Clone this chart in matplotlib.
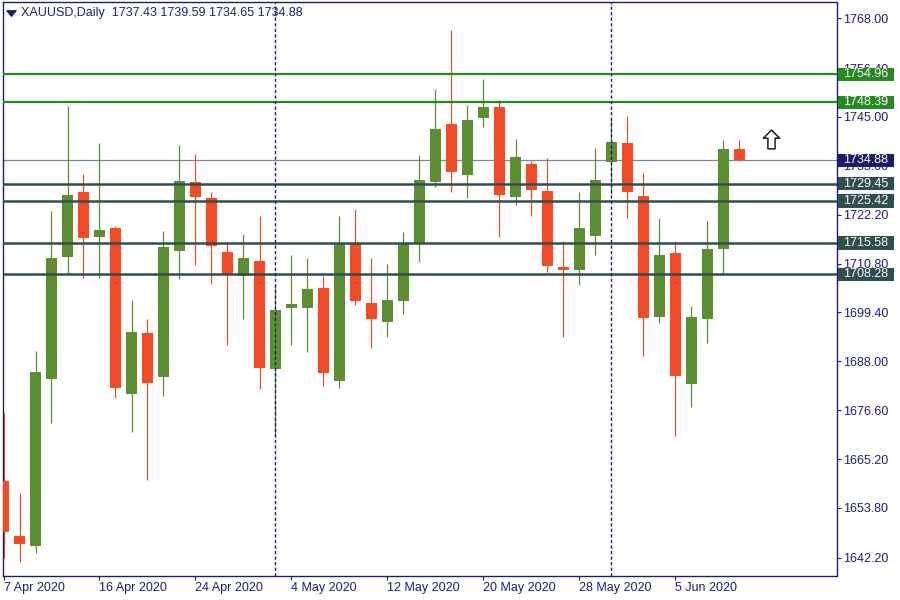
import matplotlib
matplotlib.use("Agg")
import matplotlib.pyplot as plt
from matplotlib.patches import Rectangle
from matplotlib.path import Path
from matplotlib.transforms import blended_transform_factory

# ---------------- data ----------------
opens = [1660.0, 1647.2, 1645.0, 1683.9, 1712.3, 1727.5, 1717.0, 1719.0, 1680.4, 1694.5,
         1684.4, 1713.7, 1729.9, 1726.2, 1713.4, 1707.8, 1711.5, 1686.2, 1700.4, 1700.4,
         1705.0, 1683.4, 1715.5, 1701.5, 1697.2, 1702.0, 1715.6, 1729.9, 1743.4, 1731.4,
         1744.7, 1747.3, 1726.3, 1734.1, 1727.8, 1709.9, 1709.2, 1717.3, 1734.6, 1739.0,
         1726.6, 1698.4, 1713.2, 1682.7, 1697.9, 1714.1, 1737.43]
highs = [1675.9, 1657.3, 1690.3, 1723.1, 1747.6, 1731.8, 1739.0, 1719.6, 1702.2, 1697.8,
         1718.5, 1738.5, 1736.4, 1727.4, 1715.9, 1717.6, 1722.0, 1705.7, 1712.9, 1712.0,
         1708.0, 1722.0, 1723.6, 1712.2, 1710.8, 1718.2, 1736.2, 1751.6, 1765.3, 1747.8,
         1753.9, 1749.0, 1739.9, 1734.8, 1735.5, 1716.1, 1727.5, 1737.8, 1744.7, 1745.2,
         1732.0, 1721.5, 1716.1, 1700.8, 1720.8, 1739.7, 1739.59]
lows = [1642.2, 1641.3, 1643.2, 1673.7, 1708.6, 1707.4, 1707.4, 1679.5, 1671.6, 1660.4,
        1679.9, 1707.2, 1710.4, 1706.0, 1691.8, 1697.9, 1681.6, 1670.5, 1691.8, 1690.2,
        1682.2, 1681.8, 1701.1, 1691.1, 1693.7, 1699.0, 1711.2, 1728.6, 1727.5, 1726.0,
        1742.6, 1717.1, 1724.4, 1721.8, 1708.8, 1693.7, 1705.7, 1712.7, 1727.1, 1721.4,
        1689.2, 1696.9, 1670.6, 1677.4, 1692.3, 1708.1, 1734.65]
closes = [1648.1, 1645.5, 1685.5, 1712.2, 1726.9, 1716.7, 1718.7, 1681.8, 1694.8, 1683.0,
          1714.7, 1730.1, 1726.3, 1714.8, 1708.1, 1712.2, 1686.5, 1699.9, 1701.3, 1704.8,
          1685.3, 1715.5, 1702.0, 1697.9, 1702.4, 1715.7, 1730.4, 1742.2, 1732.1, 1744.3,
          1747.3, 1726.7, 1735.7, 1727.9, 1710.2, 1709.2, 1719.0, 1730.4, 1739.2, 1727.5,
          1698.1, 1712.9, 1684.5, 1698.4, 1714.3, 1737.6, 1734.88]

date_tick_idx = [0, 6, 12, 18, 24, 30, 36, 42]
date_tick_labels = ["7 Apr 2020", "16 Apr 2020", "24 Apr 2020", "4 May 2020",
                    "12 May 2020", "20 May 2020", "28 May 2020", "5 Jun 2020"]
price_ticks = [1768.00, 1756.40, 1745.00, 1733.60, 1722.20, 1710.80, 1699.40,
               1688.00, 1676.60, 1665.20, 1653.80, 1642.20]
green_levels = [1754.96, 1748.39]
slate_levels = [1729.45, 1725.42, 1715.58, 1708.28]
bid_price = 1734.88
period_separators = [17, 38]
arrow_idx, arrow_price = 48, 1739.85
title_text = "XAUUSD,Daily  1737.43 1739.59 1734.65 1734.88"

# ---------------- style ----------------
BULL = "#5b8f31"
BEAR = "#f24b26"
NAVY = "#1c1c70"
TEXT = "#1e1e78"
GREEN_LINE = "#228b22"
SLATE = "#2f4f4f"
BID_LINE = "#778899"
BID_BOX = "#1c1a6b"
FONT = "Liberation Sans"
FS = 9

W, H = 900, 600
fig = plt.figure(figsize=(W / 100, H / 100), dpi=100)
fig.patch.set_facecolor("white")
left_px, right_px, top_px, bot_px = 2.5, 836.5, 2.0, 576.0
ax = fig.add_axes([left_px / W, (H - bot_px) / H, (right_px - left_px) / W, (bot_px - top_px) / H])
ax.set_facecolor("white")

n = len(opens)
xs = list(range(n))
body_w = 0.69
for i in xs:
    o, h, l, c = opens[i], highs[i], lows[i], closes[i]
    col = BULL if c >= o else BEAR
    ax.vlines(i, l, h, color=col, lw=0.9, zorder=2)
    ax.bar(i, max(abs(c - o), 0.35), bottom=min(o, c), width=body_w, color=col,
           linewidth=0, zorder=3)

# levels
ax.axhline(bid_price, color=BID_LINE, lw=0.9, zorder=1.5)
for p in green_levels:
    ax.axhline(p, color=GREEN_LINE, lw=1.6, zorder=4)
for p in slate_levels:
    ax.axhline(p, color=SLATE, lw=1.8, zorder=4)
for s in period_separators:
    ax.axvline(s, color=NAVY, lw=1.0, ls=(0, (2.4, 1.6)), zorder=4.5)

# arrow marker
arrow_path = Path([(0, 0.575), (0.5, 0.08), (0.22, 0.08), (0.22, -0.575), (-0.22, -0.575),
                   (-0.22, 0.08), (-0.5, 0.08), (0, 0.575)],
                  [Path.MOVETO] + [Path.LINETO] * 6 + [Path.CLOSEPOLY])
ax.plot([arrow_idx], [arrow_price], marker=arrow_path, markersize=13.5,
        markerfacecolor="white", markeredgecolor="#202020", markeredgewidth=1.1,
        linestyle="none", zorder=6, clip_on=False)

# axes limits
px_per_bar = 16.0
x0_px = 3.5
ax.set_xlim((left_px - x0_px) / px_per_bar, (right_px - x0_px) / px_per_bar)
ppu = 4.288
y_ref_px, y_ref_price = 18.3, 1768.0
ax.set_ylim(y_ref_price - (bot_px - y_ref_px) / ppu, y_ref_price + (y_ref_px - top_px) / ppu)

for sp in ax.spines.values():
    sp.set_color(NAVY)
    sp.set_linewidth(1.0)

# y ticks right
ax.yaxis.tick_right()
ax.set_yticks(price_ticks)
ax.set_yticklabels([f"{v:.2f}" for v in price_ticks])
ax.tick_params(axis="y", direction="out", length=2.6, width=0.8, color=NAVY, pad=2.3,
               labelsize=FS, labelcolor=TEXT)
# x ticks
ax.set_xticks(date_tick_idx)
ax.set_xticklabels(date_tick_labels, ha="left")
ax.tick_params(axis="x", direction="out", length=2.6, width=0.8, color=NAVY, pad=1.5,
               labelsize=FS, labelcolor=TEXT)
for lab in ax.get_xticklabels() + ax.get_yticklabels():
    lab.set_fontfamily(FONT)

# price label boxes
bt = blended_transform_factory(ax.transAxes, ax.transData)
ax_w_px = right_px - left_px
box_x0 = (838.0 - left_px) / ax_w_px
box_w = (894.0 - 838.0) / ax_w_px
box_half = 6.7 / ppu
txt_x = (843.5 - left_px) / ax_w_px
labels = [(p, GREEN_LINE) for p in green_levels] + [(bid_price, BID_BOX)] + \
         [(p, SLATE) for p in slate_levels]
for p, col in labels:
    ax.add_patch(Rectangle((box_x0, p - box_half), box_w, 2 * box_half, transform=bt,
                           facecolor=col, edgecolor="none", clip_on=False, zorder=10))
    ax.text(txt_x, p, f"{p:.2f}", transform=bt, color="white", fontsize=FS,
            family=FONT, ha="left", va="center", clip_on=False, zorder=11)

# title
tri = Path([(-0.5, 0.3), (0.5, 0.3), (0, -0.3), (-0.5, 0.3)],
           [Path.MOVETO, Path.LINETO, Path.LINETO, Path.CLOSEPOLY])
fig.add_artist(plt.Line2D([10.5 / W], [1 - 12.8 / H], marker=tri, markersize=6.5,
                          color=NAVY, linestyle="none", transform=fig.transFigure))
fig.text(21 / W, 1 - 12.7 / H, title_text, color=TEXT, fontsize=FS, family=FONT,
         ha="left", va="center")

fig.savefig("out.png", dpi=100, facecolor="white")
